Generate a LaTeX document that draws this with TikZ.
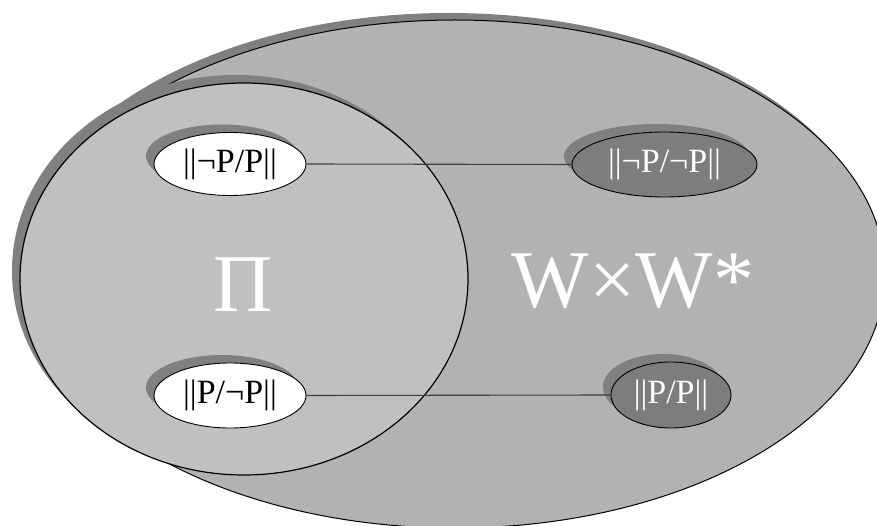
\documentclass[tikz,border=0pt]{standalone}
\usepackage{fontspec}
\setmainfont{Liberation Serif}
\usetikzlibrary{shapes.geometric,shadows}
\definecolor{bigfill}{gray}{0.70}
\definecolor{innerfill}{gray}{0.753}
\definecolor{shadowgray}{gray}{0.50}
\definecolor{darkfill}{gray}{0.49}
\definecolor{linkgray}{gray}{0.25}
\tikzset{
  shad/.style={general shadow={fill=shadowgray, shadow xshift=-8pt, shadow yshift=8pt}},
  region/.style={ellipse, draw=black, line width=1pt, inner sep=0pt, shad},
  lightset/.style={ellipse, draw=black, line width=0.9pt, fill=white, inner sep=0pt, font=\fontsize{34}{40}\selectfont, shad},
  darkset/.style={lightset, fill=darkfill, text=white},
  biglabel/.style={text=white, font=\fontsize{82}{90}\selectfont, inner sep=0pt, anchor=base},
  link/.style={draw=linkgray, line width=1.1pt}
}
\begin{document}
\begin{tikzpicture}[x=1pt,y=1pt]
\useasboundingbox (0,0) rectangle (877,-526);
\begin{scope}
\clip (0,0) rectangle (877,-526);
\node[ellipse, draw=black, line width=1pt, inner sep=0pt, fill=bigfill,
      general shadow={fill=shadowgray, shadow xshift=-6pt, shadow yshift=7pt},
      minimum width=860pt, minimum height=508pt] (world) at (455,-274) {};
\end{scope}
\node[region, fill=innerfill, minimum width=448pt, minimum height=392pt, line width=1.2pt] (piset) at (244,-279) {};
\node[biglabel] (pilabel) at (243.5,-311) {Π};
\node[biglabel] (wlabel) at (633,-307) {W×W*};
\node[lightset, minimum width=152pt, minimum height=63pt] (a) at (230,-164) {||¬P/P||};
\node[darkset, minimum width=185pt, minimum height=65pt] (b) at (664.5,-164.5) {||¬P/¬P||};
\node[lightset, minimum width=152pt, minimum height=65pt] (c) at (230,-395.5) {||P/¬P||};
\node[darkset, minimum width=120pt, minimum height=66pt] (d) at (671,-395) {||P/P||};
\draw[link] (a.east) -- (b.west);
\draw[link] (c.east) -- (d.west);
\end{tikzpicture}
\end{document}
